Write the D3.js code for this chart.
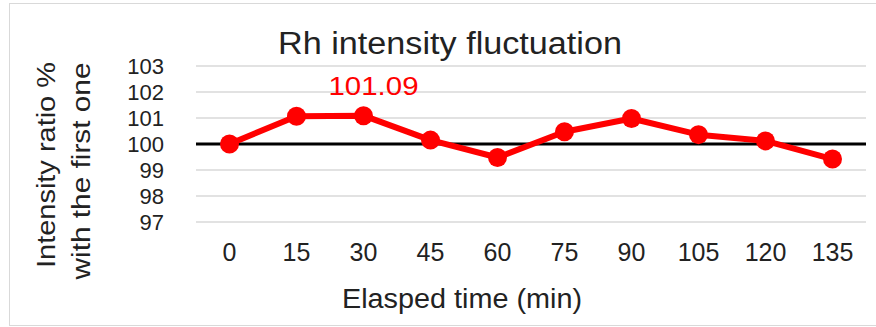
<!DOCTYPE html>
<html>
<head>
<meta charset="utf-8">
<script src="https://cdn.jsdelivr.net/npm/d3@7"></script>
<style>
  body { margin: 0; background: #fff; }
  text { font-family: "Liberation Sans", Arial, sans-serif; }
</style>
</head>
<body>
<script>
const times = ["0", "15", "30", "45", "60", "75", "90", "105", "120", "135"]
const ratios = [100.0, 101.07, 101.09, 100.15, 99.48, 100.47, 100.98, 100.36, 100.12, 99.42]
const yTicks = [97, 98, 99, 100, 101, 102, 103]
const peakLabel = "101.09"

const W = 876, H = 327

const svg = d3.select("body").append("svg")
  .attr("width", W)
  .attr("height", H)

// chart frame
svg.append("rect")
  .attr("x", 9.5).attr("y", 3.5)
  .attr("width", 870).attr("height", 322)
  .attr("fill", "#fff")
  .attr("stroke", "#d9d9d9")

const x = d3.scaleBand()
  .domain(times)
  .range([196, 866])

const y = d3.scaleLinear()
  .domain([97, 103])
  .range([222, 66])

const cx = t => x(t) + x.bandwidth() / 2

// gridlines
svg.append("g")
  .selectAll("line")
  .data(yTicks)
  .enter()
  .append("line")
  .attr("x1", 196).attr("x2", 866)
  .attr("y1", d => y(d)).attr("y2", d => y(d))
  .attr("stroke", "#d9d9d9")
  .attr("stroke-width", 1.5)

// y tick labels
svg.append("g")
  .selectAll("text")
  .data(yTicks)
  .enter()
  .append("text")
  .attr("x", 164)
  .attr("y", d => y(d))
  .attr("dy", "0.35em")
  .attr("text-anchor", "end")
  .attr("font-size", 22)
  .attr("fill", "#222")
  .text(d => d)

// x tick labels
svg.append("g")
  .selectAll("text")
  .data(times)
  .enter()
  .append("text")
  .attr("x", d => cx(d))
  .attr("y", 261)
  .attr("text-anchor", "middle")
  .attr("font-size", 25)
  .attr("fill", "#222")
  .text(d => d)

// reference line at 100
svg.append("line")
  .attr("x1", 196).attr("x2", 866)
  .attr("y1", y(100)).attr("y2", y(100))
  .attr("stroke", "#000")
  .attr("stroke-width", 3)

const line = d3.line()
  .x((d, i) => cx(times[i]))
  .y(d => y(d))

svg.append("path")
  .datum(ratios)
  .attr("d", line)
  .attr("fill", "none")
  .attr("stroke", "#ff0000")
  .attr("stroke-width", 6)
  .attr("stroke-linejoin", "round")

svg.append("g")
  .selectAll("circle")
  .data(ratios)
  .enter()
  .append("circle")
  .attr("cx", (d, i) => cx(times[i]))
  .attr("cy", d => y(d))
  .attr("r", 9.5)
  .attr("fill", "#ff0000")

// data label
svg.append("text")
  .attr("x", cx("30") + 10)
  .attr("y", 95)
  .attr("text-anchor", "middle")
  .attr("font-size", 25)
  .attr("textLength", 90)
  .attr("lengthAdjust", "spacingAndGlyphs")
  .attr("fill", "#ff0000")
  .text(peakLabel)

// title
svg.append("text")
  .attr("x", 450)
  .attr("y", 54)
  .attr("text-anchor", "middle")
  .attr("font-size", 31)
  .attr("textLength", 344)
  .attr("lengthAdjust", "spacingAndGlyphs")
  .attr("fill", "#222")
  .text("Rh intensity fluctuation")

// axis titles
svg.append("text")
  .attr("transform", "translate(55,165) rotate(-90)")
  .attr("text-anchor", "middle")
  .attr("font-size", 26)
  .attr("textLength", 206)
  .attr("lengthAdjust", "spacingAndGlyphs")
  .attr("fill", "#222")
  .text("Intensity ratio %")

svg.append("text")
  .attr("transform", "translate(90,171) rotate(-90)")
  .attr("text-anchor", "middle")
  .attr("font-size", 26)
  .attr("textLength", 217)
  .attr("lengthAdjust", "spacingAndGlyphs")
  .attr("fill", "#222")
  .text("with the first one")

svg.append("text")
  .attr("x", 462)
  .attr("y", 308)
  .attr("text-anchor", "middle")
  .attr("font-size", 27)
  .attr("textLength", 240)
  .attr("lengthAdjust", "spacingAndGlyphs")
  .attr("fill", "#222")
  .text("Elasped time (min)")
</script>
</body>
</html>
